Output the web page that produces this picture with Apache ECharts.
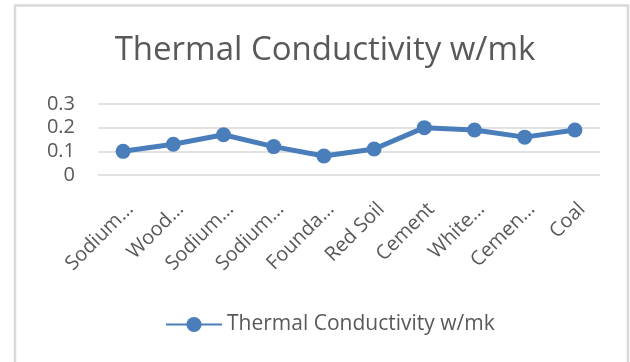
<!DOCTYPE html>
<html>
<head>
<meta charset="utf-8">
<script src="https://cdn.jsdelivr.net/npm/echarts@6/dist/echarts.min.js"></script>
<style>
html,body{margin:0;padding:0;background:#fff;}
#chart{width:630px;height:362px;}
</style>
</head>
<body>
<div id="chart"></div>
<script>
const categories = ["Sodium…", "Wood…", "Sodium…", "Sodium…", "Founda…", "Red Soil", "Cement", "White…", "Cemen…", "Coal"];
const values = [0.10, 0.13, 0.17, 0.12, 0.08, 0.11, 0.20, 0.19, 0.16, 0.19];
const yTicks = [0, 0.1, 0.2, 0.3];
const seriesName = "Thermal Conductivity w/mk";
const titleText = "Thermal Conductivity w/mk";

const chart = echarts.init(document.getElementById('chart'), null, {renderer: 'canvas'});
const font = "'Open Sans', 'Noto Sans', sans-serif";
const textColor = '#595959';
const lineColor = '#4a7ebb';

chart.setOption({
  animation: false,
  backgroundColor: '#fff',
  graphic: [{
    type: 'rect',
    shape: {x: 15, y: 5.5, width: 613, height: 380},
    style: {fill: 'none', stroke: '#d9d9d9', lineWidth: 2.5},
    silent: true
  }],
  title: {
    text: titleText,
    left: 320,
    textAlign: 'center',
    top: 29,
    textStyle: {fontFamily: font, fontSize: 33, fontWeight: 'normal', color: textColor}
  },
  legend: {
    data: [seriesName],
    left: 160,
    top: 309,
    itemWidth: 56,
    itemHeight: 19,
    itemGap: 4,
    textStyle: {fontFamily: font, fontSize: 21, color: textColor}
  },
  grid: {left: 98, right: 30, top: 104, bottom: 187, containLabel: false},
  xAxis: {
    type: 'category',
    data: categories,
    boundaryGap: true,
    axisLine: {show: false},
    axisTick: {show: false},
    axisLabel: {
      rotate: 45,
      interval: 0,
      margin: 24,
      align: 'right',
      verticalAlign: 'top',
      fontFamily: font,
      fontSize: 20,
      color: textColor
    }
  },
  yAxis: {
    type: 'value',
    min: yTicks[0],
    max: yTicks[yTicks.length - 1],
    interval: 0.1,
    axisLine: {show: false},
    axisTick: {show: false},
    splitLine: {lineStyle: {color: '#d9d9d9', width: 1.5}},
    axisLabel: {
      margin: 23,
      fontFamily: font,
      fontSize: 20,
      color: textColor,
      formatter: v => String(Math.round(v * 10) / 10)
    }
  },
  series: [{
    name: seriesName,
    type: 'line',
    data: values,
    symbol: 'circle',
    symbolSize: 15,
    lineStyle: {color: lineColor, width: 5},
    itemStyle: {color: lineColor}
  }]
});
</script>
</body>
</html>
